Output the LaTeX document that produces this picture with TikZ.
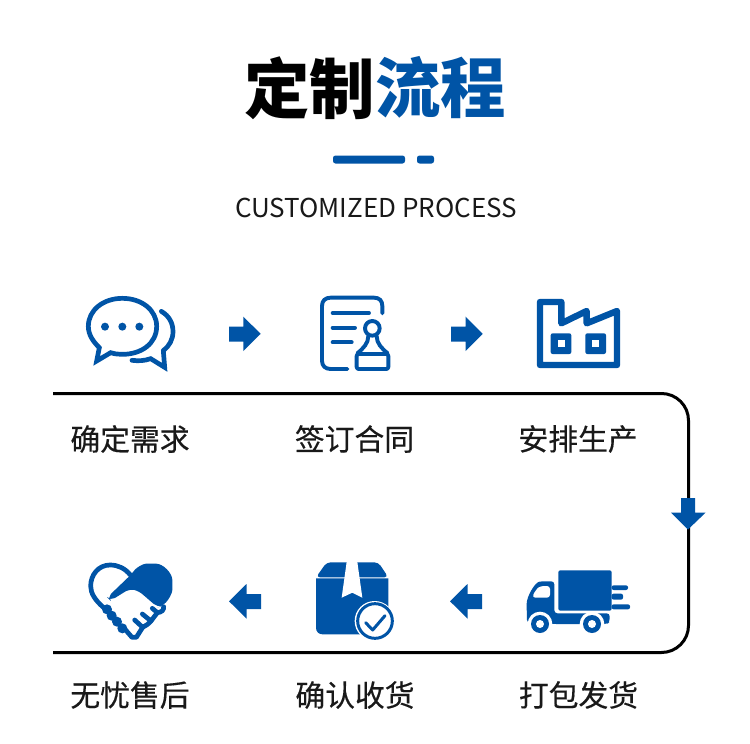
\documentclass[tikz,border=0pt]{standalone}
\usepackage{fontspec}
\setmainfont{Noto Sans}
\newfontfamily\cjk{Noto Sans CJK SC}
\newfontfamily\cjkm[FakeBold=0.35]{Noto Sans CJK SC}
\definecolor{brand}{RGB}{0,84,166}
\tikzset{
  px/.style={x=1pt,y=-1pt},
  titletxt/.style={inner sep=0pt,font=\cjk\bfseries\fontsize{65.4}{70}\selectfont},
  labeltxt/.style={inner sep=0pt,font=\cjkm\fontsize{29.8}{32}\selectfont,text=black!90},
  blockarrow/.style={fill=brand,draw=none},
  iconline/.style={draw=brand,line width=3.9pt,line cap=round,line join=round,fill=none},
  heavyline/.style={iconline,line width=4.7pt},
  iconfill/.style={fill=brand,draw=none},
  zoomed/.style={x=0.33333pt,y=-0.33333pt}
}
\begin{document}
\begin{tikzpicture}[px]
\useasboundingbox[fill=white] (0,0) rectangle (750,744);
% title
\node[titletxt,anchor=east] (titleA) at (375,88) {定制};
\node[titletxt,anchor=west,text=brand] (titleB) at (375,88) {流程};
\fill[brand,rounded corners=2.5pt] (333,155.5) rectangle (405,163.5);
\fill[brand,rounded corners=2.5pt] (417,155.5) rectangle (434,163.5);
\node[inner sep=0pt,font=\cjk\fontsize{26}{28}\selectfont,text=black!90] (sub) at (376,208) {CUSTOMIZED PROCESS};
% route line
\coordinate (lineStart) at (53,393.5);
\coordinate (lineEnd) at (53,652.5);
\draw[black,line width=3pt,rounded corners=27pt] (lineStart) -- (688.5,393.5) -- (688.5,652.5) -- (lineEnd);
% labels
\node[labeltxt] (l1) at (130,439) {确定需求};
\node[labeltxt] (l2) at (354.5,439) {签订合同};
\node[labeltxt] (l3) at (578,439) {安排生产};
\node[labeltxt] (l4) at (130,695) {无忧售后};
\node[labeltxt] (l5) at (355,695) {确认收货};
\node[labeltxt] (l6) at (578.5,695) {打包发货};
% arrows
\fill[blockarrow] (229,326.7)--(243.3,326.7)--(243.3,316.7)--(260.7,333.8)--(243.3,351)--(243.3,341.5)--(229,341.5)--cycle;
\fill[blockarrow] (451,326.7)--(465.7,326.7)--(465.7,316.7)--(482.7,333.8)--(465.7,351)--(465.7,341.5)--(451,341.5)--cycle;
\fill[blockarrow] (261,594)--(246.5,594)--(246.5,584)--(229,601.3)--(246.5,618.5)--(246.5,609)--(261,609)--cycle;
\fill[blockarrow] (482,594)--(467.5,594)--(467.5,584)--(450,601.3)--(467.5,618.5)--(467.5,609)--(482,609)--cycle;
\fill[blockarrow] (681,498)--(695,498)--(695,512.7)--(705.5,512.7)--(688,529.5)--(671,512.7)--(681,512.7)--cycle;
% chat icon
\begin{scope}[shift={(70,280)},zoomed]
\draw[heavyline,line join=miter] (80,243) -- (88,203) .. controls (70,185) and (55,165) .. (55,139) .. controls (55,90) and (100,55) .. (157,55) .. controls (215,55) and (260,90) .. (260,139) .. controls (260,190) and (215,223) .. (157,223) .. controls (145,223) and (135,222) .. (122,218) -- cycle;
\draw[heavyline] (274,94) .. controls (298,108) and (309,130) .. (309,155) .. controls (309,178) and (298,198) .. (280,212);
\draw[heavyline,line join=miter] (280,212) -- (284,262) -- (242,236) .. controls (222,243) and (205,243) .. (186,241);
\fill[brand] (105,140) circle (12) (157,140) circle (12) (208,140) circle (12);
\end{scope}
% contract icon
\begin{scope}[shift={(70,280)},zoomed]
\draw[iconline] (937,100) -- (937,78) .. controls (937,62) and (928,53) .. (912,53) -- (782,53) .. controls (766,53) and (756,62) .. (756,78) -- (756,242) .. controls (756,258) and (766,267) .. (782,267) -- (832,267);
\draw[iconline] (788,99) -- (897,99) (788,143) -- (855,143) (788,187) -- (845,187);
\draw[iconline] (907,145) circle (22);
\draw[iconline] (895,168) .. controls (895,190) and (880,205) .. (862,220);
\draw[iconline] (920,168) .. controls (920,190) and (935,205) .. (953,220);
\draw[iconline,rounded corners=2pt] (860,222) rectangle (955,267);
\end{scope}
% factory icon
\begin{scope}[shift={(430,280)},zoomed]
\draw[draw=brand,line width=6.4pt,line join=round] (330,66) -- (394,66) -- (394,130) -- (470,93) -- (470,130) -- (561,93) -- (561,255) -- (330,255) -- cycle;
\fill[iconfill,rounded corners=2pt] (362,160) rectangle (424,222);
\fill[iconfill,rounded corners=2pt] (466,160) rectangle (528,222);
\fill[white] (383,181) rectangle (404,202);
\fill[white] (487,181) rectangle (508,202);
\end{scope}
% handshake icon
\begin{scope}[shift={(70,550)},zoomed]
\draw[heavyline] (182,76) .. controls (165,55) and (145,45) .. (120,45) .. controls (85,45) and (62,75) .. (62,108) .. controls (62,130) and (75,150) .. (100,172);
\fill[iconfill,rounded corners=5pt] (112,142) -- (185,72) .. controls (200,52) and (220,41) .. (243,41) .. controls (280,41) and (307,70) .. (307,105) .. controls (307,130) and (295,150) .. (277,168) -- (263,172) -- (205,122) -- (178,117) -- (122,152) -- cycle;
\draw[heavyline] (281,170) .. controls (282,180) and (275,187) .. (262,188) -- (247,175);
\draw[heavyline] (262,188) -- (243,213) -- (217,192);
\draw[heavyline] (243,213) .. controls (235,222) and (228,227) .. (218,232) -- (194,210);
\draw[heavyline] (218,232) -- (199,262) -- (186,262) -- (160,232);
\fill[brand] (111,178) circle (15) (125,197) circle (15) (141,215) circle (15) (157,235) circle (15);
\end{scope}
% box icon
\begin{scope}[shift={(300,550)},zoomed]
\fill[iconfill,rounded corners=4pt] (48,82) -- (80,37) -- (235,37) -- (265,82) -- cycle;
\fill[iconfill] (48,85) -- (265,85) -- (265,253) -- (68,253) .. controls (56,253) and (48,245) .. (48,233) -- cycle;
\fill[white] (140,36) -- (172,36) -- (187,143) -- (157,128) -- (125,143) -- cycle;
\fill[white] (224,213) circle (60);
\draw[draw=brand,line width=3pt] (225,213) circle (52);
\draw[draw=brand,line width=3pt,line cap=round,line join=round] (197,218) -- (218,240) -- (255,197);
\end{scope}
% truck icon
\begin{scope}[shift={(510,490)},zoomed]
\fill[iconfill,rounded corners=2pt] (145,241) rectangle (305,362);
\fill[iconfill,rounded corners=2pt] (305,286) rectangle (354,300);
\fill[iconfill,rounded corners=2pt] (305,311) rectangle (339,329);
\fill[iconfill,rounded corners=2pt] (305,343) rectangle (360,358);
\fill[iconfill,rounded corners=3pt] (133,274) -- (98,274) .. controls (75,276) and (50,320) .. (50,350) -- (51,398) -- (130,402) -- (292,402) -- (299,395) -- (299,370) -- (133,370) -- cycle;
\fill[white] (90,402) circle (37) (246,402) circle (37);
\fill[iconfill] (90,402) circle (27) (246,402) circle (27);
\fill[white] (90,402) circle (12) (246,402) circle (12);
\fill[white,rounded corners=3pt] (120,288) -- (92,288) .. controls (82,295) and (72,308) .. (67,323) -- (120,323) -- cycle;
\end{scope}
\end{tikzpicture}
\end{document}
